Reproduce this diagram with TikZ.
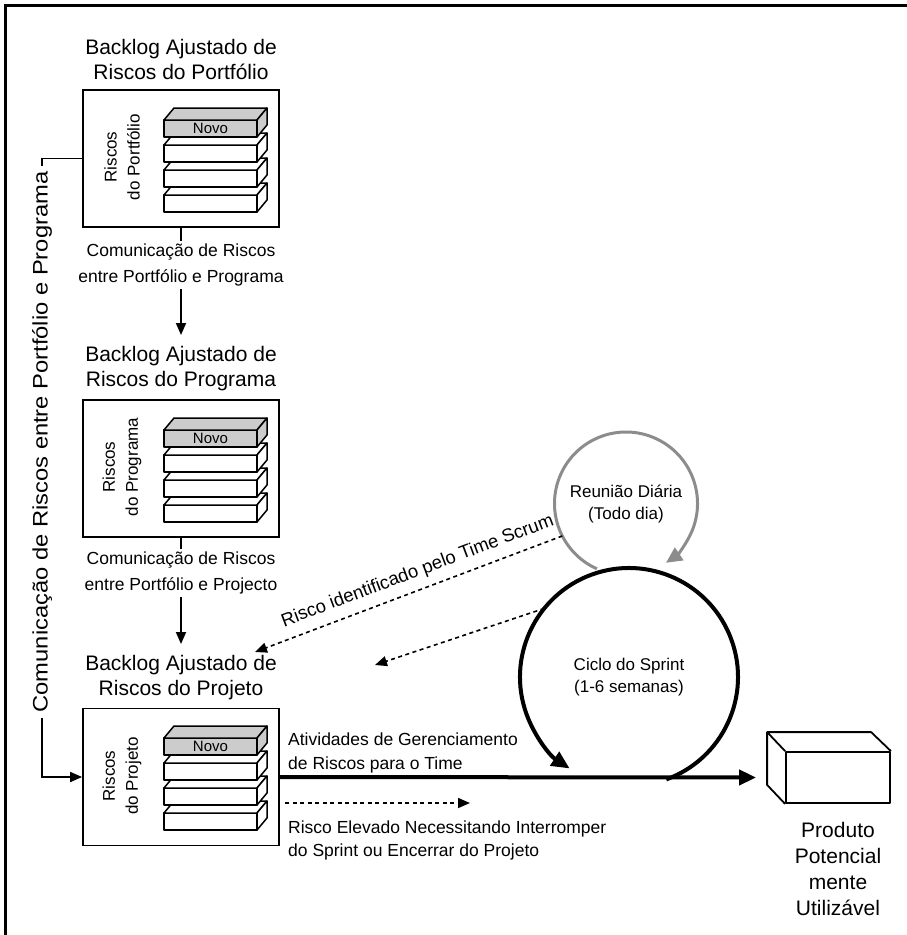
\documentclass[tikz,border=0pt]{standalone}
\usepackage{fontspec}
\setmainfont{Liberation Sans}
\usetikzlibrary{arrows.meta, positioning}
\definecolor{novo}{gray}{0.8}
\definecolor{daygray}{gray}{0.55}
\tikzset{
  frame/.style={line width=3.5pt},
  backlog/.style={rectangle,draw,line width=1.8pt,minimum width=196pt,minimum height=137pt,inner sep=0pt},
  title/.style={align=center,font=\fontsize{21}{25}\selectfont,inner sep=0pt},
  label/.style={align=center,font=\fontsize{17.5}{26}\selectfont,inner sep=3pt},
  note/.style={align=left,anchor=west,font=\fontsize{17.5}{24}\selectfont,inner sep=0pt},
  vlabel/.style={rotate=90,align=center,font=\fontsize{17}{23}\selectfont,inner sep=0pt},
  bar/.style={draw,line width=1.5pt,line join=round},
  line/.style={line width=1.8pt,-{Triangle[length=12pt,width=10pt]}},
  dots/.style={line width=1.6pt,dash pattern=on 4pt off 3.5pt,-{Triangle[length=12pt,width=10pt]}},
  flow/.style={line width=4pt,-{Triangle[length=17pt,width=15pt]}},
  loop/.style={circle,outer sep=0pt,inner sep=0pt,align=center},
  prism/.style={draw,line width=1.8pt,line join=round}
}
\newcommand{\riskbar}[1]{%
  \draw[bar,fill=#1] (0,0) rectangle (93,17);
  \draw[bar,fill=#1] (0,0) -- (10,-12) -- (103,-12) -- (93,0) -- cycle;
  \draw[bar,fill=#1] (93,0) -- (103,-12) -- (103,5) -- (93,17) -- cycle;
}
\newcommand{\riskstack}[3]{%
  \foreach \k in {3,2,1}{
    \begin{scope}[shift={(#1,#2+25*\k)}]
      \riskbar{white}
    \end{scope}
  }
  \begin{scope}[shift={(#1,#2)}]
    \riskbar{novo}
  \end{scope}
  \node[font=\fontsize{15}{15}\selectfont,inner sep=0pt] (#3) at (#1+46.5,#2+8.5) {Novo};
}

\begin{document}
\begin{tikzpicture}[x=1pt,y=-1pt,font=\fontsize{17}{22}\selectfont]
\useasboundingbox (0,0) rectangle (907,935);
\draw[frame] (5.5,935) |- (907,5.5);

% backlogs
\node[title] (t1) at (181,59.5) {Backlog Ajustado de\\Riscos do Portfólio};
\node[backlog] (p1) at (181,158.5) {};
\node[vlabel] (r1) at (122,157) {Riscos\\do Portfólio};
\riskstack{164}{120}{n1}

\node[title] (t2) at (181,368.5) {Backlog Ajustado de\\Riscos do Programa};
\node[backlog] (p2) at (181,468.5) {};
\node[vlabel] (r2) at (122,467) {Riscos\\do Programa};
\riskstack{164}{430}{n2}

\node[title] (t3) at (181,677.5) {Backlog Ajustado de\\Riscos do Projeto};
\node[backlog] (p3) at (181,777) {};
\node[vlabel] (r3) at (122,776) {Riscos\\do Projeto};
\riskstack{164}{738}{n3}

\node[label] (c1) at (181,265) {Comunicação de Riscos\\entre Portfólio e Programa};
\node[label] (c2) at (181,573) {Comunicação de Riscos\\entre Portfólio e Projecto};
\draw[line width=1.8pt] (p1.south) -- (c1.north);
\draw[line] (c1.south) -- ([yshift=11pt]t2.north);
\draw[line width=1.8pt] (p2.south) -- (c2.north);
\draw[line] (c2.south) -- ([yshift=11pt]t3.north);

\node[vlabel,xscale=1.13,font=\fontsize{21}{21}\selectfont,inner sep=5pt] (side) at (42,442)
  {Comunicação de Riscos entre Portfólio e Programa};
\draw[line width=1.8pt] (p1.west) -| (side.east);
\draw[line] (side.west) |- (p3.west);

% sprint
\node[loop,minimum size=143pt] (daily) at (626,503.5) {Reunião Diária\\(Todo dia)};
\node[loop,minimum size=218pt] (sprint) at (629,677) {Ciclo do Sprint\\(1-6 semanas)};
\draw[line width=3pt,daygray,-{Triangle[length=16pt,width=15pt]}]
  (daily.246) arc[start angle=246,end angle=-56,radius=71.5pt];
\draw[line width=4pt,-{Triangle[length=18pt,width=16pt]}]
  (sprint.-70) arc[start angle=-70,end angle=237,radius=109pt];

\coordinate (tipA) at (255,652);
\coordinate (tipB) at (375,665);
\draw[dots] (daily.207) -- (tipA) node[pos=0.45,sloped,above=5pt,font=\fontsize{18.5}{20}\selectfont] (scrum) {Risco identificado pelo Time Scrum};
\draw[dots] (sprint.141) -- (tipB);

% product
\node[prism,minimum width=104pt,minimum height=51pt] (produto) at (838,777.5) {};
\draw[prism] (produto.north west) -- ++(-18,-19) -- ++(104,0) -- (produto.north east);
\draw[prism] ([shift={(-18,-19)}]produto.north west) -- ([shift={(-18,-19)}]produto.south west) -- (produto.south west);
\node[align=center,font=\fontsize{21}{26}\selectfont] (plabel) at (838,869) {Produto\\Potencial\\mente\\Utilizável};

\draw[flow] (p3.east) -- ([xshift=-29pt]produto.west);
\node[note] (act) at (288,753) {Atividades de Gerenciamento\\de Riscos para o Time};

\coordinate (esc0) at (285,803);
\coordinate (esc1) at (470,803);
\draw[dots] (esc0) -- (esc1);
\node[note,font=\fontsize{17.5}{23}\selectfont] (escal) at (288,840) {Risco Elevado Necessitando Interromper\\do Sprint ou Encerrar do Projeto};
\end{tikzpicture}
\end{document}
